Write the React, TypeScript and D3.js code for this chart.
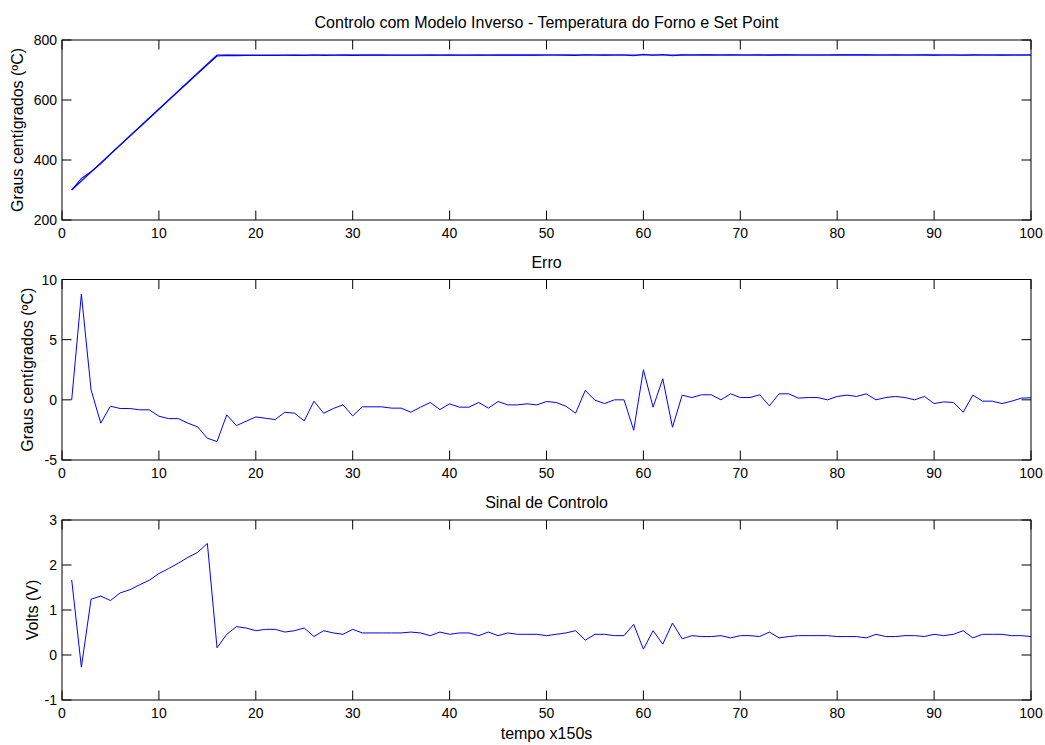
import React from "react";
import * as d3 from "d3";

const steps: number[] = Array.from({ length: 100 }, (_, i) => i + 1);

const setPointRamp: number[] = [300, 330, 360, 390, 420, 450, 480, 510, 540, 570, 600, 630, 660, 690, 720, 750];
const setPointHold = 750;

const erro: number[] = [
  0, 8.78, 0.83, -1.94, -0.53, -0.72, -0.72, -0.83, -0.83, -1.36,
  -1.56, -1.56, -1.94, -2.25, -3.19, -3.47, -1.25, -2.14, -1.78, -1.42,
  -1.53, -1.64, -1.03, -1.11, -1.75, -0.11, -1.11, -0.72, -0.42, -1.33,
  -0.58, -0.58, -0.58, -0.69, -0.69, -1.03, -0.61, -0.22, -0.81, -0.33,
  -0.61, -0.61, -0.22, -0.69, -0.14, -0.42, -0.42, -0.33, -0.42, -0.14,
  -0.22, -0.53, -1.11, 0.78, -0.03, -0.31, 0, 0, -2.53, 2.5,
  -0.61, 1.75, -2.28, 0.39, 0.19, 0.42, 0.42, 0, 0.5, 0.19,
  0.19, 0.42, -0.5, 0.5, 0.5, 0.14, 0.19, 0.19, 0, 0.28,
  0.39, 0.28, 0.5, 0, 0.19, 0.28, 0.19, 0, 0.28, -0.31,
  -0.17, -0.22, -1.03, 0.39, -0.11, -0.11, -0.31, -0.11, 0.14, 0.17,
];

const sinal: number[] = [
  1.67, -0.27, 1.24, 1.31, 1.21, 1.38, 1.45, 1.56, 1.66, 1.81,
  1.92, 2.04, 2.17, 2.28, 2.48, 0.16, 0.46, 0.63, 0.6, 0.54,
  0.57, 0.57, 0.51, 0.54, 0.6, 0.41, 0.54, 0.49, 0.46, 0.57,
  0.49, 0.49, 0.49, 0.49, 0.49, 0.51, 0.49, 0.43, 0.51, 0.46,
  0.49, 0.49, 0.43, 0.51, 0.43, 0.49, 0.46, 0.46, 0.46, 0.43,
  0.46, 0.49, 0.54, 0.33, 0.46, 0.46, 0.43, 0.43, 0.68, 0.13,
  0.54, 0.24, 0.71, 0.36, 0.43, 0.41, 0.41, 0.43, 0.38, 0.43,
  0.43, 0.41, 0.51, 0.38, 0.41, 0.43, 0.43, 0.43, 0.43, 0.41,
  0.41, 0.41, 0.38, 0.46, 0.41, 0.41, 0.43, 0.43, 0.41, 0.46,
  0.43, 0.46, 0.54, 0.38, 0.46, 0.46, 0.46, 0.43, 0.43, 0.41,
];

const setPoint: number[] = steps.map((s, i) => (i < setPointRamp.length ? setPointRamp[i] : setPointHold));
const temperatura: number[] = setPoint.map((v, i) => v + erro[i]);

const xTicks: number[] = [0, 10, 20, 30, 40, 50, 60, 70, 80, 90, 100];
const yTicks1: number[] = [200, 400, 600, 800];
const yTicks2: number[] = [-5, 0, 5, 10];
const yTicks3: number[] = [-1, 0, 1, 2, 3];

const W = 1045;
const H = 745;
const LEFT = 62;
const RIGHT = 1031;
const FONT = "Arial, 'Liberation Sans', Helvetica, sans-serif";
const FS = 14;
const FS_LABEL = 16;
const TICK = 9.5;

type Panel = {
  top: number;
  bottom: number;
  domain: [number, number];
  yTicks: number[];
  series: { values: number[]; color: string; width: number }[];
  title: string;
  ylabel: string;
  ylabelX: number;
  xlabel?: string;
};

const panels: Panel[] = [
  {
    top: 40, bottom: 220, domain: [200, 800], yTicks: yTicks1,
    series: [
      { values: setPoint, color: "#0000ff", width: 1.1 },
      { values: temperatura, color: "#0000ff", width: 1.1 },
    ],
    title: "Controlo com Modelo Inverso - Temperatura do Forno e Set Point",
    ylabel: "Graus centígrados (ºC)", ylabelX: 22.5,
  },
  {
    top: 279.5, bottom: 460, domain: [-5, 10], yTicks: yTicks2,
    series: [{ values: erro, color: "#0000ff", width: 1 }],
    title: "Erro", ylabel: "Graus centígrados (ºC)", ylabelX: 32.5,
  },
  {
    top: 520, bottom: 700, domain: [-1, 3], yTicks: yTicks3,
    series: [{ values: sinal, color: "#0000ff", width: 1 }],
    title: "Sinal de Controlo", ylabel: "Volts (V)", ylabelX: 37.5, xlabel: "tempo x150s",
  },
];

const x = d3.scaleLinear().domain([0, 100]).range([LEFT, RIGHT]);

function PanelView({ p }: { p: Panel }) {
  const y = d3.scaleLinear().domain(p.domain).range([p.bottom, p.top]);
  const line = d3.line<number>().x((_, i) => x(steps[i])).y((d) => y(d));
  const midY = (p.top + p.bottom) / 2;
  return (
    <g>
      <rect x={LEFT} y={p.top} width={RIGHT - LEFT} height={p.bottom - p.top} fill="#fff" />
      {p.series.map((s, k) => (
        <path key={k} d={line(s.values) || ""} fill="none" stroke={s.color} strokeWidth={s.width} />
      ))}
      {xTicks.map((t) => (
        <g key={"x" + t}>
          <line x1={x(t)} x2={x(t)} y1={p.bottom} y2={p.bottom - TICK} stroke="#000" />
          <line x1={x(t)} x2={x(t)} y1={p.top} y2={p.top + TICK} stroke="#000" />
          <text x={x(t)} y={p.bottom + 18} textAnchor="middle" fontSize={FS} fontFamily={FONT}>{t}</text>
        </g>
      ))}
      {p.yTicks.map((t) => (
        <g key={"y" + t}>
          <line x1={LEFT} x2={LEFT + TICK} y1={y(t)} y2={y(t)} stroke="#000" />
          <line x1={RIGHT} x2={RIGHT - TICK} y1={y(t)} y2={y(t)} stroke="#000" />
          <text x={LEFT - 5} y={y(t) + 5} textAnchor="end" fontSize={FS} fontFamily={FONT}>{t}</text>
        </g>
      ))}
      <rect x={LEFT} y={p.top} width={RIGHT - LEFT} height={p.bottom - p.top} fill="none" stroke="#000" strokeWidth={1} />
      <text x={(LEFT + RIGHT) / 2} y={p.top - 12} textAnchor="middle" fontSize={FS_LABEL} fontFamily={FONT}>{p.title}</text>
      <text transform={`translate(${p.ylabelX},${midY}) rotate(-90)`} textAnchor="middle" fontSize={FS_LABEL} fontFamily={FONT}>{p.ylabel}</text>
      {p.xlabel && (
        <text x={(LEFT + RIGHT) / 2} y={p.bottom + 39} textAnchor="middle" fontSize={FS_LABEL} fontFamily={FONT}>{p.xlabel}</text>
      )}
    </g>
  );
}

export default function App() {
  return (
    <svg width={W} height={H} style={{ display: "block", position: "absolute", left: 0, top: 0 }}>
      <rect width={W} height={H} fill="#fff" />
      {panels.map((p, i) => (
        <PanelView key={i} p={p} />
      ))}
    </svg>
  );
}
